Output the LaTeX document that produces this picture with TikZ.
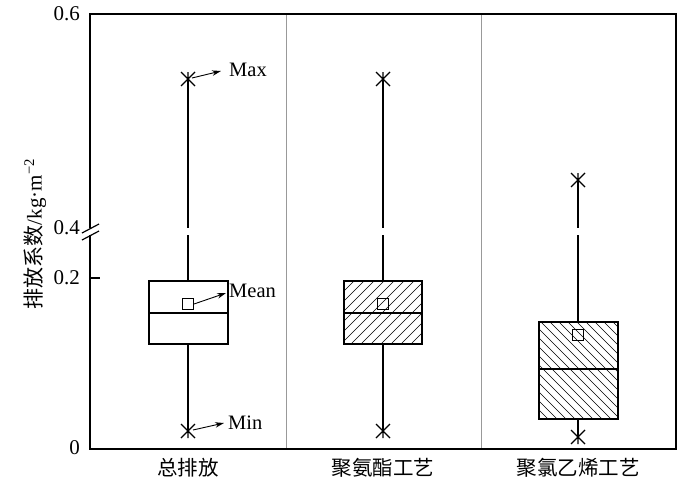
\documentclass[tikz,border=0pt]{standalone}
\usepackage{fontspec}
\setmainfont{Liberation Serif}
\newfontfamily\cjk{Noto Sans CJK SC}
\usetikzlibrary{arrows.meta}
\tikzset{
  axisline/.style={line width=1.4pt,black},
  divline/.style={line width=1pt,gray!80},
  boxline/.style={line width=1.4pt,black},
  whisk/.style={line width=1.4pt,black},
  hatch/.style={line width=0.6pt,black},
  meanbox/.style={draw,line width=1pt,minimum size=11pt,inner sep=0pt,fill=white},
  ticklab/.style={anchor=east,inner sep=0pt,font=\fontsize{21}{24}\selectfont},
  annlab/.style={anchor=west,inner sep=0pt,font=\fontsize{20.5}{24}\selectfont},
  catlab/.style={inner sep=0pt,font=\fontsize{20.5}{24}\selectfont\cjk},
  annarrow/.style={line width=0.9pt,-{Stealth[length=9pt,width=5.5pt]}},
}
\newcommand{\starmark}[2]{%
  \draw[line width=1.1pt] (#1-7,#2-7) -- (#1+7,#2+7) (#1-7,#2+7) -- (#1+7,#2-7) (#1,#2-7) -- (#1,#2+7);}
\begin{document}
\begin{tikzpicture}[x=1pt,y=-1pt]
\useasboundingbox (0,0) rectangle (700,490);
% dividers
\draw[divline] (286,14) -- (286,449);
\draw[divline] (481,14) -- (481,449);
% frame
\draw[axisline] (90,235) -- (90,449) -- (676,449) -- (676,14) -- (90,14) -- (90,228);
% axis break
\draw[line width=1.2pt] (82,233) -- (99,224);
\draw[line width=1.2pt] (82,240) -- (99,231);
% ticks
\draw[axisline] (90,278) -- (100,278);
\node[ticklab] (t06) at (80,14) {0.6};
\node[ticklab] (t04) at (80,228) {0.4};
\node[ticklab] (t02) at (80,278) {0.2};
\node[ticklab] (t00) at (80,448) {0};
% y label
\node[rotate=90,inner sep=0pt,font=\fontsize{21}{24}\selectfont] (ylab) at (35,234) {{\cjk 排放系数}/kg·m\textsuperscript{−2}};

% ---------- box 1 ----------
\draw[whisk] (188,79) -- (188,228) (188,235) -- (188,281) (188,344) -- (188,431);
\draw[boxline] (149,281) rectangle (228,344);
\draw[boxline] (149,313) -- (228,313);
\node[meanbox] (m1) at (188,304) {};
\starmark{188}{79}
\starmark{188}{431}
\coordinate (max1) at (192,78);
\coordinate (min1) at (193,430);
\node[annlab] (maxlab) at (229,70) {Max};
\node[annlab] (meanlab) at (229,291) {Mean};
\node[annlab] (minlab) at (228,423) {Min};
\draw[annarrow] (max1) -- (221,71);
\draw[annarrow] (m1.east) -- (226,293);
\draw[annarrow] (min1) -- (224,423);

% ---------- box 2 ----------
\draw[whisk] (383,79) -- (383,228) (383,235) -- (383,281) (383,344) -- (383,431);
\begin{scope}
  \clip (344,281) rectangle (422,344);
  \foreach \i in {0,10,...,150} \draw[hatch] (344-63+\i,344) -- ++(63,-63);
\end{scope}
\draw[boxline] (344,281) rectangle (422,344);
\draw[boxline] (344,313) -- (422,313);
\node[meanbox,fill=none] (m2) at (383,304) {};
\starmark{383}{79}
\starmark{383}{431}

% ---------- box 3 ----------
\draw[whisk] (578,180) -- (578,228) (578,235) -- (578,322) (578,419) -- (578,437);
\begin{scope}
  \clip (539,322) rectangle (618,419);
  \foreach \i in {0,9,...,190} \draw[hatch] (539-97+\i,322) -- ++(97,97);
\end{scope}
\draw[boxline] (539,322) rectangle (618,419);
\draw[boxline] (539,369) -- (618,369);
\node[meanbox,fill=none] (m3) at (578,335) {};
\starmark{578}{180}
\starmark{578}{437}

% categories
\node[catlab] (c1) at (188,468) {总排放};
\node[catlab] (c2) at (383,468) {聚氨酯工艺};
\node[catlab] (c3) at (578,468) {聚氯乙烯工艺};
\end{tikzpicture}
\end{document}
